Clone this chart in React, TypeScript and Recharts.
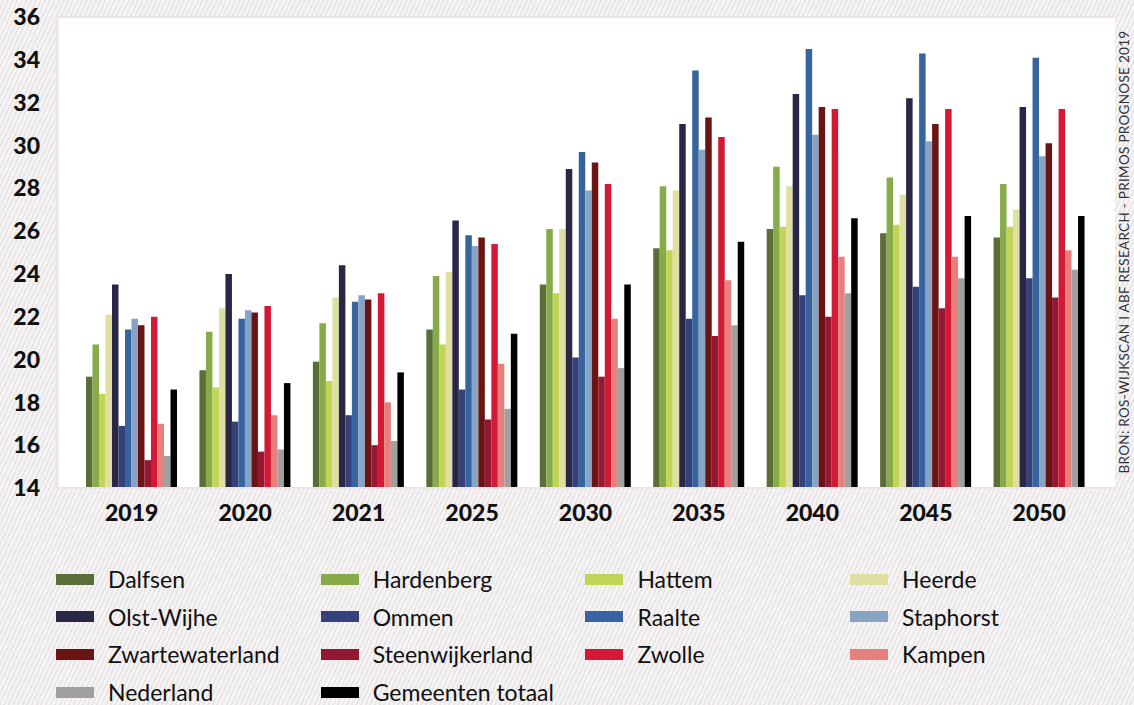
import React from 'react';
import { BarChart, Bar, XAxis, YAxis, CartesianGrid } from 'recharts';

const years = ['2019', '2020', '2021', '2025', '2030', '2035', '2040', '2045', '2050'];

const dalfsen = [19.2, 19.5, 19.9, 21.4, 23.5, 25.2, 26.1, 25.9, 25.7];
const hardenberg = [20.7, 21.3, 21.7, 23.9, 26.1, 28.1, 29.0, 28.5, 28.2];
const hattem = [18.4, 18.7, 19.0, 20.7, 23.1, 25.1, 26.2, 26.3, 26.2];
const heerde = [22.1, 22.4, 22.9, 24.1, 26.1, 27.9, 28.1, 27.7, 27.0];
const olstWijhe = [23.5, 24.0, 24.4, 26.5, 28.9, 31.0, 32.4, 32.2, 31.8];
const ommen = [16.9, 17.1, 17.4, 18.6, 20.1, 21.9, 23.0, 23.4, 23.8];
const raalte = [21.4, 21.9, 22.7, 25.8, 29.7, 33.5, 34.5, 34.3, 34.1];
const staphorst = [21.9, 22.3, 23.0, 25.3, 27.9, 29.8, 30.5, 30.2, 29.5];
const zwartewaterland = [21.6, 22.2, 22.8, 25.7, 29.2, 31.3, 31.8, 31.0, 30.1];
const steenwijkerland = [15.3, 15.7, 16.0, 17.2, 19.2, 21.1, 22.0, 22.4, 22.9];
const zwolle = [22.0, 22.5, 23.1, 25.4, 28.2, 30.4, 31.7, 31.7, 31.7];
const kampen = [17.0, 17.4, 18.0, 19.8, 21.9, 23.7, 24.8, 24.8, 25.1];
const nederland = [15.5, 15.8, 16.2, 17.7, 19.6, 21.6, 23.1, 23.8, 24.2];
const totaal = [18.6, 18.9, 19.4, 21.2, 23.5, 25.5, 26.6, 26.7, 26.7];

const yTicks = [14, 16, 18, 20, 22, 24, 26, 28, 30, 32, 34, 36];

const series = [
  { key: 'Dalfsen', values: dalfsen, color: '#5c6e37' },
  { key: 'Hardenberg', values: hardenberg, color: '#87ab48' },
  { key: 'Hattem', values: hattem, color: '#c2d455' },
  { key: 'Heerde', values: heerde, color: '#dedfa0' },
  { key: 'Olst-Wijhe', values: olstWijhe, color: '#292646' },
  { key: 'Ommen', values: ommen, color: '#344279' },
  { key: 'Raalte', values: raalte, color: '#37649e' },
  { key: 'Staphorst', values: staphorst, color: '#87a4c4' },
  { key: 'Zwartewaterland', values: zwartewaterland, color: '#6b1414' },
  { key: 'Steenwijkerland', values: steenwijkerland, color: '#951832' },
  { key: 'Zwolle', values: zwolle, color: '#d21a37' },
  { key: 'Kampen', values: kampen, color: '#e7807a' },
  { key: 'Nederland', values: nederland, color: '#a0a09e' },
  { key: 'Gemeenten totaal', values: totaal, color: '#000000' },
];

const chartData = years.map((year, i) => {
  const row: any = { year };
  series.forEach(s => { row[s.key] = s.values[i]; });
  return row;
});

const gridColor = '#ece4e6';
const tickStyle = { fontSize: 23, fontWeight: 900, fill: '#111', fontFamily: 'Lato, sans-serif' };

export default function App() {
  return (
    <div
      style={{
        position: 'relative',
        width: 1134,
        height: 705,
        overflow: 'hidden',
        background: 'repeating-linear-gradient(115deg, #f6f4f5 0px, #f6f4f5 2.5px, #e9e4e6 2.5px, #e9e4e6 4.2px)',
      }}
    >
      <style>{`body{margin:0}`}</style>
      <BarChart
        width={1134}
        height={705}
        data={chartData}
        margin={{ top: 17, right: 19, bottom: 177, left: 0 }}
        barGap={0}
      >
        <CartesianGrid vertical={false} fill="#fff" fillOpacity={1} stroke={gridColor} strokeWidth={2} />
        <XAxis
          dataKey="year"
          padding={{ left: 18, right: 19 }}
          axisLine={{ stroke: gridColor, strokeWidth: 2 }}
          tickLine={false}
          tickSize={0}
          tickMargin={17}
          tick={tickStyle}
          height={40}
        />
        <YAxis
          yAxisId="left"
          domain={[14, 36]}
          ticks={yTicks}
          interval={0}
          width={57}
          axisLine={{ stroke: gridColor, strokeWidth: 3 }}
          tickLine={false}
          tickSize={0}
          tickMargin={17}
          tick={tickStyle}
        />
        <YAxis
          yAxisId="right"
          orientation="right"
          domain={[14, 36]}
          width={0}
          tick={false}
          tickLine={false}
          axisLine={{ stroke: gridColor, strokeWidth: 3 }}
        />
        {series.map(s => (
          <Bar key={s.key} yAxisId="left" dataKey={s.key} fill={s.color} barSize={6.5} isAnimationActive={false} />
        ))}
      </BarChart>

      <div
        style={{
          position: 'absolute',
          left: 1124,
          top: 252,
          transform: 'translate(-50%, -50%) rotate(-90deg)',
          whiteSpace: 'nowrap',
          fontFamily: 'Lato, sans-serif',
          fontSize: 13.5,
          color: '#333',
          letterSpacing: 0.3,
        }}
      >
        BRON: ROS-WIJKSCAN I ABF RESEARCH - PRIMOS PROGNOSE 2019
      </div>

      {series.map((s, i) => {
        const col = i % 4;
        const row = Math.floor(i / 4);
        return (
          <div
            key={s.key}
            style={{
              position: 'absolute',
              left: 56 + col * 264.7,
              top: 579 + row * 37.7 - 12,
              height: 24,
              lineHeight: '24px',
              display: 'flex',
              alignItems: 'center',
              fontFamily: 'Lato, sans-serif',
              fontSize: 23,
              color: '#111',
            }}
          >
            <span style={{ display: 'inline-block', width: 38, height: 11, background: s.color, marginRight: 14 }} />
            <span>{s.key}</span>
          </div>
        );
      })}
    </div>
  );
}
